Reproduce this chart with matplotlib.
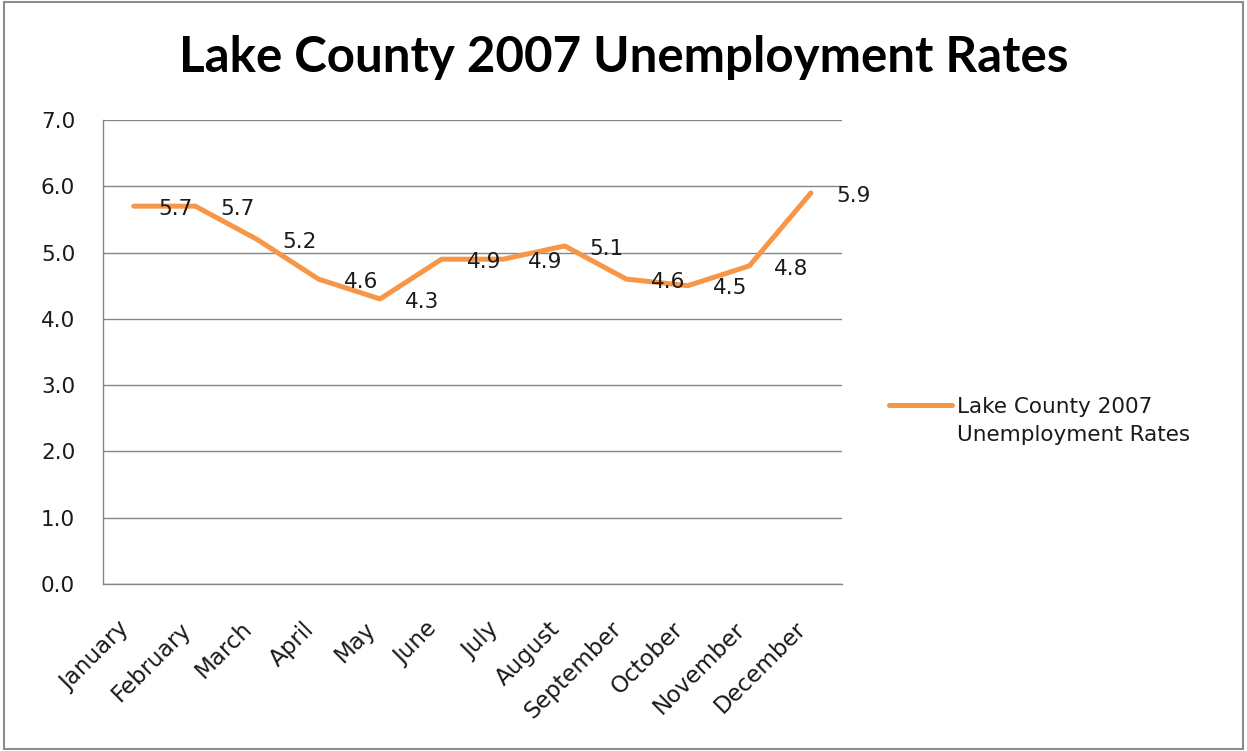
import matplotlib
matplotlib.use("Agg")
import matplotlib.pyplot as plt
from matplotlib.patches import Rectangle

months = ["January", "February", "March", "April", "May", "June", "July",
          "August", "September", "October", "November", "December"]
rates = [5.7, 5.7, 5.2, 4.6, 4.3, 4.9, 4.9, 5.1, 4.6, 4.5, 4.8, 5.9]
y_ticks = [0.0, 1.0, 2.0, 3.0, 4.0, 5.0, 6.0, 7.0]
series_label = "Lake County 2007\nUnemployment Rates"
title = "Lake County 2007 Unemployment Rates"

ORANGE = "#F79646"
GRID = "#868686"
TXT = "#1a1a1a"

plt.rcParams["font.family"] = ["DejaVu Sans"]

fig = plt.figure(figsize=(12.47, 7.51), dpi=100)
ax = fig.add_axes([0.0826, 0.2224, 0.5924, 0.6178])

x = range(len(months))
ax.plot(x, rates, color=ORANGE, lw=3.6, solid_capstyle="round",
        solid_joinstyle="round", label=series_label, zorder=3)

# value labels sit to the right of each point, like the Excel original
for xi, v in zip(x, rates):
    ax.annotate(f"{v:.1f}", (xi, v), xytext=(18, -2), textcoords="offset points",
                ha="left", va="center", fontsize=15.5, color=TXT, zorder=4)

ax.set_xlim(-0.5, len(months) - 0.5)
ax.set_ylim(0, 7)
ax.set_yticks(y_ticks)
ax.set_yticklabels([f"{t:.1f}" for t in y_ticks], fontsize=15.5, color=TXT)
ax.set_xticks(list(x))
ax.set_xticklabels(months, rotation=45, ha="right", va="top", fontsize=16.5,
                   color=TXT)
ax.tick_params(axis="y", length=0, pad=20)
ax.tick_params(axis="x", length=0, pad=24)

ax.grid(axis="y", color=GRID, lw=1.0)
ax.set_axisbelow(True)
for side in ("top", "right"):
    ax.spines[side].set_visible(False)
for side in ("left", "bottom"):
    ax.spines[side].set_color(GRID)
    ax.spines[side].set_linewidth(1.0)

leg = fig.legend(loc="center left", bbox_to_anchor=(0.6975, 0.439),
                 frameon=False, fontsize=15.5, handlelength=2.9, handletextpad=0.25)
for t in leg.get_texts():
    t.set_linespacing(1.5)
    t.set_color(TXT)
# put the legend line level with the first text line
hl = leg.get_lines()[0]
hl.set_ydata([y + 12 for y in hl.get_ydata()])

fig.text(0.5, 0.924, title, ha="center", va="center", fontsize=35.5,
         fontweight="bold", color="black", family="Lato")

fig.patches.append(Rectangle((0.003, 0.003), 0.994, 0.994, transform=fig.transFigure,
                             fill=False, edgecolor="#8c8c8c", lw=1.5))

fig.savefig("out.png", dpi=100, facecolor="white")
